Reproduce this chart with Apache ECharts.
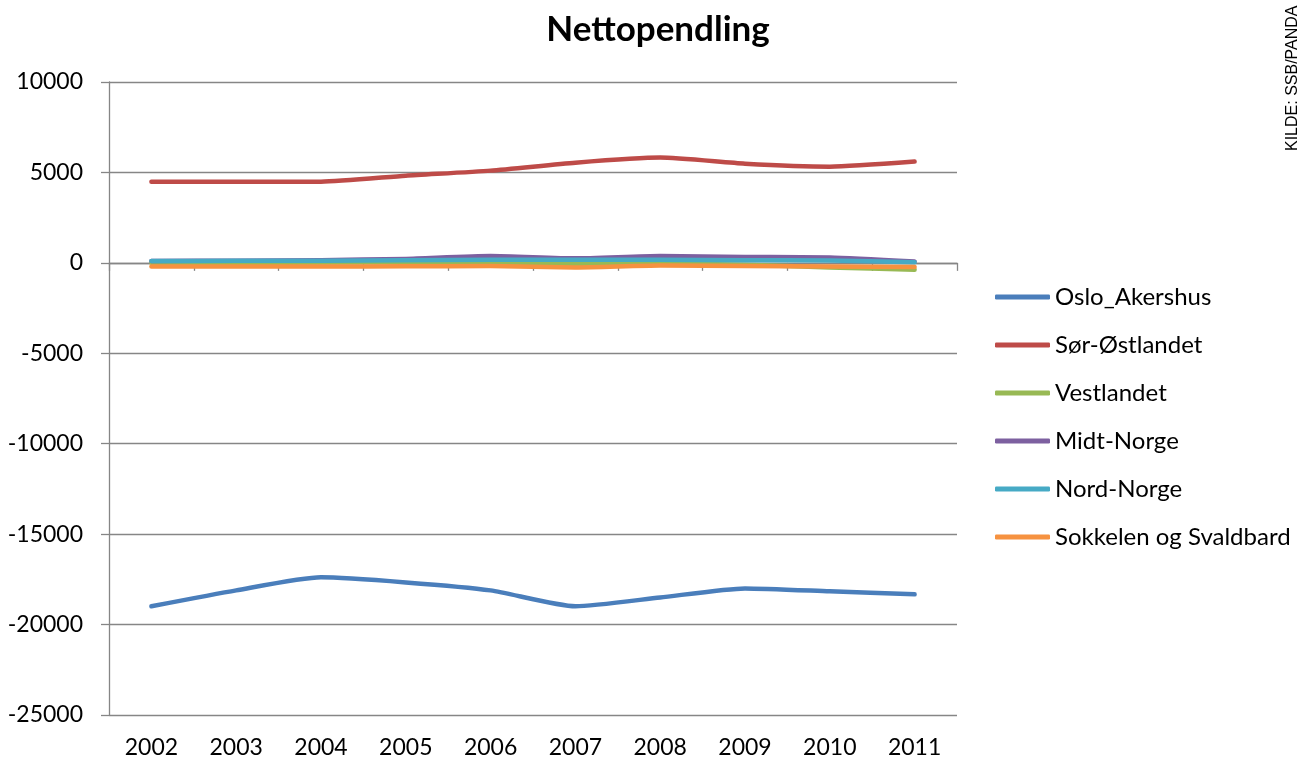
<!DOCTYPE html>
<html>
<head>
<meta charset="utf-8">
<script src="https://cdn.jsdelivr.net/npm/echarts@6/dist/echarts.min.js"></script>
<style>
  html, body { margin: 0; padding: 0; background: #fff; }
  #chart { width: 1303px; height: 763px; }
</style>
</head>
<body>
<div id="chart"></div>
<script>
const years = ['2002', '2003', '2004', '2005', '2006', '2007', '2008', '2009', '2010', '2011']

const osloAkershus = [-18990, -18110, -17390, -17670, -18110, -18990, -18500, -18000, -18160, -18330]
const sorOstlandet = [4490, 4490, 4490, 4820, 5100, 5540, 5820, 5480, 5320, 5600]
const vestlandet = [0, 0, 20, 50, 30, -80, -30, -100, -250, -380]
const midtNorge = [100, 120, 150, 220, 380, 250, 380, 330, 300, 80]
const nordNorge = [100, 110, 120, 150, 170, 170, 170, 150, 130, 30]
const sokkelen = [-200, -200, -200, -190, -180, -250, -150, -170, -200, -230]

const seriesNames = ['Oslo_Akershus', 'Sør-Østlandet', 'Vestlandet', 'Midt-Norge', 'Nord-Norge', 'Sokkelen og Svaldbard']
const seriesValues = [osloAkershus, sorOstlandet, vestlandet, midtNorge, nordNorge, sokkelen]
const colors = ['#4A7EBB', '#BE4B48', '#98B954', '#7D60A0', '#46AAC5', '#F69240']

const font = 'Lato, "Open Sans", sans-serif'

const myChart = echarts.init(document.getElementById('chart'), null, { renderer: 'canvas' })

const option = {
  animation: false,
  color: colors,
  title: {
    text: 'Nettopendling',
    left: 653,
    top: 7,
    textAlign: 'center',
    textStyle: { fontFamily: font, fontSize: 35, fontWeight: 'bold', color: '#000' }
  },
  graphic: [
    {
      type: 'text',
      x: 1285,
      y: 151,
      rotation: Math.PI / 2,
      style: {
        text: 'KILDE: SSB/PANDA',
        font: '16px "Liberation Sans", Arial, sans-serif',
        fill: '#000'
      }
    }
  ],
  legend: {
    orient: 'vertical',
    left: 990,
    top: 280,
    itemWidth: 55,
    itemHeight: 5,
    itemGap: 24,
    icon: 'roundRect',
    data: seriesNames,
    textStyle: { fontFamily: font, fontSize: 24, color: '#000' }
  },
  grid: {
    left: 109,
    right: 346,
    top: 82,
    bottom: 48,
    containLabel: false
  },
  xAxis: [
    {
      type: 'category',
      data: years,
      boundaryGap: true,
      axisLine: { onZero: true, lineStyle: { color: '#868686', width: 1.3 } },
      axisTick: { show: true, length: 8, lineStyle: { color: '#868686', width: 1.3 } },
      axisLabel: { show: false },
      splitLine: { show: false }
    },
    {
      type: 'category',
      data: years,
      position: 'bottom',
      boundaryGap: true,
      axisLine: { show: false, onZero: false },
      axisTick: { show: false },
      axisLabel: { margin: 21, fontFamily: font, fontSize: 23, color: '#000' },
      splitLine: { show: false }
    }
  ],
  yAxis: {
    type: 'value',
    min: -25000,
    max: 10000,
    interval: 5000,
    axisLine: { show: true, lineStyle: { color: '#868686', width: 1.3 } },
    axisTick: { show: true, length: 8, lineStyle: { color: '#868686', width: 1.3 } },
    axisLabel: {
      margin: 26,
      fontFamily: font,
      fontSize: 23,
      color: '#000',
      formatter: function (value) {
        return String(value)
      }
    },
    splitLine: { show: true, lineStyle: { color: '#868686', width: 1.3 } }
  },
  series: seriesNames.map((name, i) => ({
    name: name,
    type: 'line',
    xAxisIndex: 0,
    data: seriesValues[i],
    smooth: 0.2,
    symbol: 'none',
    lineStyle: { width: 4.5, cap: 'round', join: 'round' }
  }))
}

myChart.setOption(option)
</script>
</body>
</html>
